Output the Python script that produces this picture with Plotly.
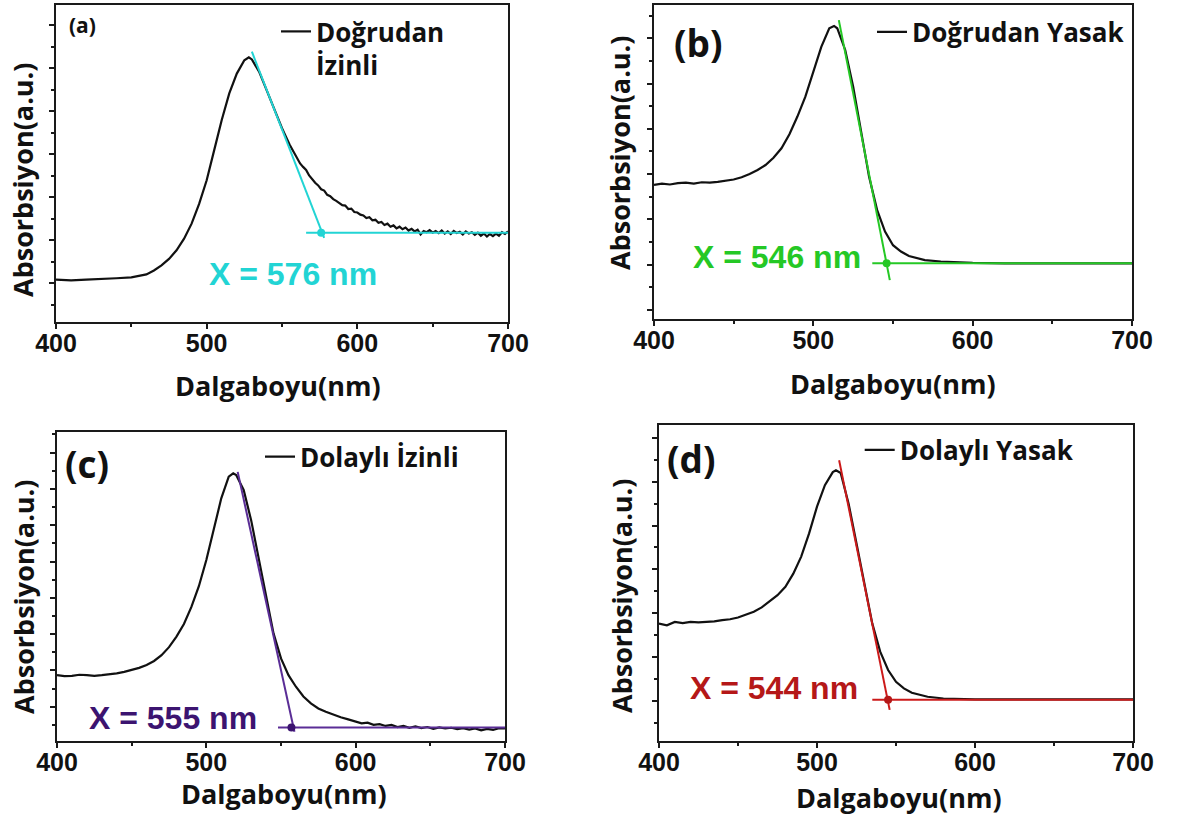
import plotly.graph_objects as go

# ---------------- data ----------------
# (a) Doğrudan İzinli
wl_a = [400, 410, 420, 430, 440, 450, 455, 460, 465, 470, 475, 480, 485, 490, 495, 500, 505, 510,
        515, 520, 525, 528, 530, 535, 540, 545, 550, 555,
        560, 562, 564, 566, 568, 570, 572, 574, 576, 578, 580, 582, 584, 586, 588, 590, 592, 594,
        596, 598, 600, 602, 604, 606, 608, 610, 612, 614, 616, 618, 620, 622, 624, 626, 628, 630,
        632, 634, 636, 638, 640, 642, 644, 646, 648, 650, 652, 654, 656, 658, 660, 662, 664, 666,
        668, 670, 672, 674, 676, 678, 680, 682, 684, 686, 688, 690, 692, 694, 696, 698, 700]
abs_a = [0.008, 0.006, 0.008, 0.009, 0.011, 0.013, 0.016, 0.020, 0.029, 0.041, 0.056, 0.076, 0.103,
         0.138, 0.184, 0.239, 0.309, 0.379, 0.441, 0.487, 0.518, 0.525, 0.520, 0.490, 0.447, 0.404,
         0.360, 0.322,
         0.288, 0.278, 0.270, 0.263, 0.250, 0.240, 0.233, 0.227, 0.218, 0.215, 0.205, 0.202, 0.195,
         0.191, 0.187, 0.181, 0.180, 0.172, 0.173, 0.165, 0.164, 0.159, 0.157, 0.151, 0.153, 0.146,
         0.147, 0.140, 0.142, 0.135, 0.138, 0.131, 0.134, 0.127, 0.131, 0.125, 0.129, 0.122, 0.126,
         0.120, 0.124, 0.113, 0.121, 0.118, 0.123, 0.117, 0.121, 0.116, 0.122, 0.115, 0.120, 0.114,
         0.121, 0.116, 0.119, 0.113, 0.120, 0.115, 0.118, 0.112, 0.117, 0.110, 0.115, 0.108, 0.114,
         0.109, 0.115, 0.110, 0.118, 0.114, 0.120]
tan_a_x = [530, 578]
tan_a_y = [0.538, 0.105]
base_a_x = [566, 700]
base_a_y = [0.117, 0.117]
onset_a = [576, 0.117]

# (b) Doğrudan Yasak
wl_b = [400, 405, 410, 415, 420, 425, 430, 435, 440, 445, 450, 455, 460, 465, 470, 475, 480, 485,
        490, 495, 500, 505, 510, 513, 515, 520, 525, 530, 535, 540, 545, 550, 555, 560, 570, 580,
        590, 600, 620, 640, 660, 680, 700]
abs_b = [0.276, 0.279, 0.277, 0.280, 0.281, 0.279, 0.282, 0.281, 0.283, 0.285, 0.288, 0.293, 0.300,
         0.309, 0.320, 0.336, 0.357, 0.388, 0.427, 0.471, 0.526, 0.581, 0.622, 0.627, 0.622, 0.574,
         0.493, 0.390, 0.294, 0.221, 0.173, 0.143, 0.129, 0.119, 0.110, 0.107, 0.105, 0.104, 0.103,
         0.103, 0.103, 0.103, 0.103]
tan_b_x = [516, 548]
tan_b_y = [0.640, 0.066]
base_b_x = [537, 700]
base_b_y = [0.103, 0.103]
onset_b = [546, 0.103]

# (c) Dolaylı İzinli
wl_c = [400, 405, 410, 415, 420, 425, 430, 435, 440, 445, 450, 455, 460, 465, 470, 475, 480, 485,
        490, 495, 500, 505, 510, 515, 518, 520, 525, 530, 535, 540, 545, 550, 555, 560, 565, 570,
        575, 580, 585, 590, 595, 600, 604, 608, 612, 616, 620, 624, 628, 632, 636, 640, 644, 648,
        652, 656, 660, 664, 668, 672, 676, 680, 684, 688, 692, 696, 700]
abs_c = [0.187, 0.184, 0.185, 0.188, 0.187, 0.185, 0.187, 0.189, 0.192, 0.196, 0.201, 0.207, 0.215,
         0.226, 0.242, 0.264, 0.293, 0.328, 0.375, 0.432, 0.504, 0.587, 0.674, 0.734, 0.743, 0.738,
         0.697, 0.614, 0.513, 0.403, 0.302, 0.233, 0.187, 0.155, 0.128, 0.109, 0.095, 0.086, 0.078,
         0.071, 0.065, 0.059, 0.054, 0.056, 0.050, 0.052, 0.047, 0.050, 0.044, 0.047, 0.042, 0.046,
         0.041, 0.044, 0.039, 0.043, 0.040, 0.042, 0.038, 0.041, 0.037, 0.040, 0.035, 0.039, 0.036,
         0.041, 0.040]
tan_c_x = [521, 559]
tan_c_y = [0.747, 0.031]
base_c_x = [548, 700]
base_c_y = [0.043, 0.043]
onset_c = [557, 0.043]

# (d) Dolaylı Yasak
wl_d = [400, 405, 410, 415, 420, 425, 430, 435, 440, 445, 450, 455, 460, 465, 470, 475, 480, 485,
        490, 495, 500, 505, 510, 512, 515, 520, 525, 530, 535, 540, 545, 550, 555, 560, 570, 580,
        590, 600, 620, 640, 660, 680, 700]
abs_d = [0.276, 0.272, 0.280, 0.277, 0.280, 0.279, 0.280, 0.281, 0.284, 0.286, 0.290, 0.296, 0.303,
         0.313, 0.326, 0.341, 0.360, 0.390, 0.429, 0.482, 0.543, 0.592, 0.622, 0.626, 0.620, 0.550,
         0.459, 0.366, 0.276, 0.212, 0.170, 0.143, 0.128, 0.118, 0.109, 0.105, 0.104, 0.103, 0.103,
         0.103, 0.103, 0.103, 0.103]
tan_d_x = [514, 546]
tan_d_y = [0.649, 0.079]
base_d_x = [535, 700]
base_d_y = [0.102, 0.102]
onset_d = [545, 0.102]

names = ["Doğrudan<br>İzinli", "Doğrudan Yasak", "Dolaylı İzinli", "Dolaylı Yasak"]
onset_labels = ["X = 576 nm", "X = 546 nm", "X = 555 nm", "X = 544 nm"]
panel_letters = ["(a)", "(b)", "(c)", "(d)"]
colors = ["#22d4d4", "#25c825", "#5a2d96", "#cc1a1a"]
text_colors = ["#22d4d4", "#25c825", "#3c1470", "#b51818"]
y_ranges = [[-0.0907, 0.6465], [-0.0199, 0.6733], [0.0055, 0.8568], [0.008, 0.7295]]
label_pos = [[557, 0.022], [477, 0.118], [478, 0.069], [473, 0.128]]

# ---------------- layout geometry ----------------
W, H = 1184, 823
px_x = [[56, 508], [654, 1132], [57, 505], [659, 1133]]
px_y = [[5, 322], [5, 319], [432, 741], [425, 741]]

fig = go.Figure()

spectra = [(wl_a, abs_a), (wl_b, abs_b), (wl_c, abs_c), (wl_d, abs_d)]
tangents = [(tan_a_x, tan_a_y), (tan_b_x, tan_b_y), (tan_c_x, tan_c_y), (tan_d_x, tan_d_y)]
bases = [(base_a_x, base_a_y), (base_b_x, base_b_y), (base_c_x, base_c_y), (base_d_x, base_d_y)]
onsets = [onset_a, onset_b, onset_c, onset_d]
legend_ids = ["legend", "legend2", "legend3", "legend4"]

for i in range(4):
    xa = "x" if i == 0 else f"x{i+1}"
    ya = "y" if i == 0 else f"y{i+1}"
    wl, ab = spectra[i]
    fig.add_trace(go.Scatter(x=wl, y=ab, mode="lines", name=names[i],
                             line=dict(color="#111111", width=2.2),
                             xaxis=xa, yaxis=ya, legend=legend_ids[i]))
    tx, ty = tangents[i]
    fig.add_trace(go.Scatter(x=tx, y=ty, mode="lines", showlegend=False,
                             line=dict(color=colors[i], width=2), xaxis=xa, yaxis=ya))
    bx, by = bases[i]
    fig.add_trace(go.Scatter(x=bx, y=by, mode="lines", showlegend=False,
                             line=dict(color=colors[i], width=2), xaxis=xa, yaxis=ya))
    fig.add_trace(go.Scatter(x=[onsets[i][0]], y=[onsets[i][1]], mode="markers", showlegend=False,
                             marker=dict(color=text_colors[i], size=8, symbol="circle"),
                             xaxis=xa, yaxis=ya))

axis_line = "#1a1a1a"
tickfont = dict(family="Liberation Sans", size=25, color="#111111", weight="bold")
title_font = dict(family="Open Sans", size=27, color="#111111", weight="bold")

layout = dict(width=W, height=H, margin=dict(l=0, r=0, t=0, b=0, autoexpand=False),
              paper_bgcolor="white", plot_bgcolor="white", showlegend=True)
annotations = []
for i in range(4):
    sx = "" if i == 0 else str(i + 1)
    xd = [px_x[i][0] / W, px_x[i][1] / W]
    yd = [1 - px_y[i][1] / H, 1 - px_y[i][0] / H]
    layout["xaxis" + sx] = dict(domain=xd, anchor="y" + sx, range=[400, 700], tick0=400, dtick=100,
                                showline=True, linecolor=axis_line, linewidth=1.6, mirror=True,
                                ticks="outside", ticklen=5, tickwidth=1.5, tickcolor=axis_line,
                                ticklabelstandoff=-7, automargin=False,
                                minor=dict(dtick=50, ticks="outside", ticklen=3, tickwidth=1.5,
                                           tickcolor=axis_line, showgrid=False),
                                showgrid=False, zeroline=False, tickfont=tickfont)
    layout["yaxis" + sx] = dict(domain=yd, anchor="x" + sx, range=y_ranges[i], tick0=0, dtick=0.1,
                                showline=True, linecolor=axis_line, linewidth=1.6, mirror=True,
                                ticks="outside", ticklen=5, tickwidth=1.5, tickcolor=axis_line,
                                automargin=False,
                                minor=dict(dtick=0.05, ticks="outside", ticklen=3, tickwidth=1.5,
                                           tickcolor=axis_line, showgrid=False),
                                showticklabels=False, showgrid=False, zeroline=False)
    # onset label
    annotations.append(dict(x=label_pos[i][0], y=label_pos[i][1], xref="x" + sx, yref="y" + sx,
                            text=onset_labels[i], showarrow=False, xanchor="center", yanchor="middle",
                            font=dict(family="Liberation Sans", size=32, color=text_colors[i],
                                      weight="bold")))

# axis titles
xt_pos = [[278, 385], [893, 383], [284, 793], [899, 797]]
yt_pos = [[22, 180], [620, 153], [23, 597], [621, 596]]
for i in range(4):
    annotations.append(dict(x=xt_pos[i][0] / W, y=1 - xt_pos[i][1] / H, xref="paper", yref="paper",
                            text="Dalgaboyu(nm)", showarrow=False, xanchor="center", yanchor="middle",
                            font=title_font))
    annotations.append(dict(x=yt_pos[i][0] / W, y=1 - yt_pos[i][1] / H, xref="paper", yref="paper",
                            text="Absorbsiyon(a.u.)", showarrow=False, textangle=-90,
                            xanchor="center", yanchor="middle", font=title_font))

# panel letters
pl_pos = [[67, 25, 21], [672, 42, 37], [63, 463, 37], [665, 458, 37]]
for i in range(4):
    annotations.append(dict(x=pl_pos[i][0] / W, y=1 - pl_pos[i][1] / H, xref="paper", yref="paper",
                            text=panel_letters[i], showarrow=False, xanchor="left", yanchor="middle",
                            font=dict(family="Open Sans", size=pl_pos[i][2], color="#111111",
                                      weight="bold")))
layout["annotations"] = annotations

# legends (text start px minus the symbol width)
leg_pos = [[317 - 41, 48.5], [913 - 41, 32], [301 - 41, 456.7], [900.7 - 41, 450]]
for i in range(4):
    key = legend_ids[i]
    layout[key] = dict(x=leg_pos[i][0] / W, y=1 - leg_pos[i][1] / H, xanchor="left", yanchor="middle",
                       bgcolor="rgba(0,0,0,0)", borderwidth=0, valign="top",
                       font=dict(family="Open Sans", size=26, color="#111111", weight="bold"))

fig.update_layout(**layout)
fig.write_html("out.html")
